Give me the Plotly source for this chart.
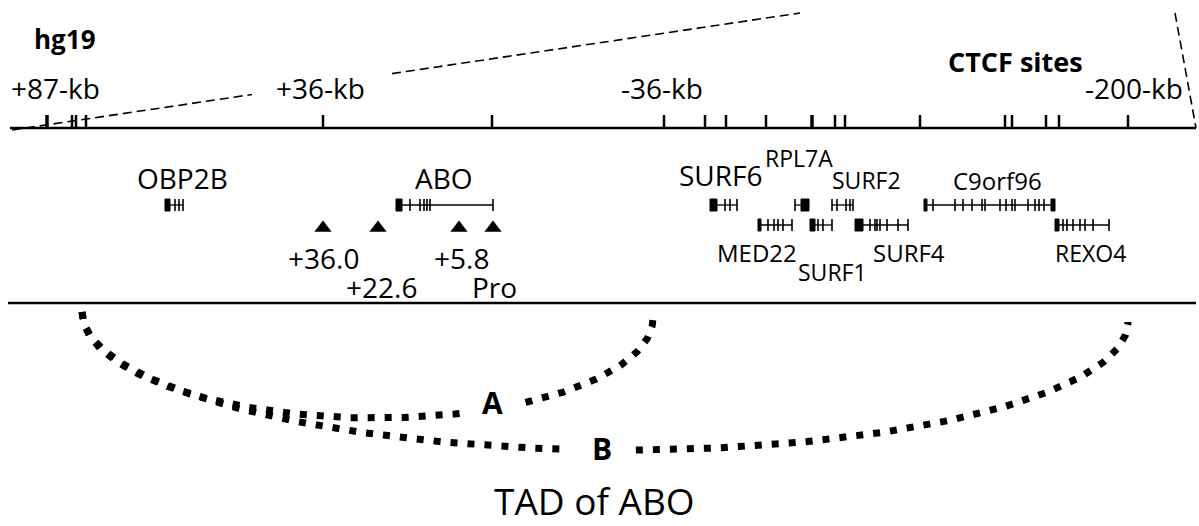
import numpy as np
import plotly.graph_objects as go

# ---------------- data ----------------
CTCF_SITES = [47, 72, 76, 86, 323, 492, 664, 705, 726, 766, 812, 835, 845, 920, 1005, 1012, 1046, 1059, 1128]
CTCF_STRONG = [47, 812]

SCALE_LABELS = ["+87-kb", "+36-kb", "-36-kb", "-200-kb"]
SCALE_POS = [55, 320, 662, 1134]

GENE_NAMES = ["OBP2B", "ABO", "SURF6", "RPL7A", "SURF2", "C9orf96", "MED22", "SURF1", "SURF4", "REXO4"]
GENE_ROW = [1, 1, 1, 1, 1, 1, 2, 2, 2, 2]
GENE_START = [165, 396, 710, 795, 832, 924, 759, 810, 855, 1055]
GENE_END = [183, 493, 737, 809, 853, 1055, 792, 832, 908, 1109]
GENE_BLOCKS = [[(165, 170)], [(396, 402)], [(710, 717)], [(801, 809)], [],
               [(924, 927), (1051, 1055)], [(758, 761)], [(810, 815)], [(855, 863)], [(1055, 1059)]]
GENE_EXONS = [[175, 179, 183], [410, 420, 424, 427, 430, 493], [725, 730, 737], [795],
              [832, 837, 846, 850, 853],
              [933, 955, 963, 972, 982, 985, 1000, 1006, 1012, 1015, 1028, 1035, 1039, 1044],
              [768, 774, 778, 783, 792], [818, 823, 832], [870, 875, 877, 880, 887, 898, 908],
              [1063, 1067, 1073, 1080, 1085, 1093, 1109]]
GENE_LABEL_X = [182, 444, 721, 799, 866, 997, 757, 832, 909, 1090]
GENE_LABEL_Y = [178, 178, 175, 158, 180, 180, 252, 272, 252, 253]
GENE_LABEL_SIZE = [28, 28, 28, 23, 23, 24, 24, 23, 24, 23]

ENH_LABELS = ["+36.0", "+22.6", "+5.8", "Pro"]
ENH_X = [323, 378, 459, 493]
ENH_LABEL_X = [323, 381, 461, 494]
ENH_LABEL_Y = [258, 287, 258, 287]

# TAD interaction arcs (half-ellipses): left end, right end, bottom depth, label gap
ARC_NAMES = ["A", "B"]
ARC_X0 = [82, 82]
ARC_X1 = [653, 1128]
ARC_Y0 = [312, 312]
ARC_Y1 = [318, 322]
ARC_BOTTOM = [418, 450]
ARC_GAP = [(462, 524), (570, 634)]
ARC_LABEL_X = [492, 602]
ARC_LABEL_Y = [402, 448]

# ---------------- layout constants ----------------
W, H = 1199, 526
AXIS_Y = 128
TICK_H = 13
MID_Y = 303
ROW_Y = {1: 205, 2: 225}
EXON_H = 6
TRI_Y = 228
FONT = "Open Sans, sans-serif"

fig = go.Figure()

# top axis line
fig.add_trace(go.Scatter(x=[10, 1196], y=[AXIS_Y, AXIS_Y], mode="lines",
                         line=dict(color="black", width=2.5), hoverinfo="skip"))
# middle separator
fig.add_trace(go.Scatter(x=[8, 1196], y=[MID_Y, MID_Y], mode="lines",
                         line=dict(color="black", width=2.5), hoverinfo="skip"))

# CTCF ticks
tx, ty, sx, sy = [], [], [], []
for s in CTCF_SITES:
    if s in CTCF_STRONG:
        sx += [s, s, None]; sy += [AXIS_Y - TICK_H, AXIS_Y, None]
    else:
        tx += [s, s, None]; ty += [AXIS_Y - TICK_H, AXIS_Y, None]
fig.add_trace(go.Scatter(x=tx, y=ty, mode="lines", line=dict(color="black", width=2.5), hoverinfo="skip"))
fig.add_trace(go.Scatter(x=sx, y=sy, mode="lines", line=dict(color="black", width=3.5), hoverinfo="skip"))

# zoom dashed lines
fig.add_trace(go.Scatter(x=[12, 252, None, 392, 800], y=[130, 94.5, None, 73.6, 13], mode="lines",
                         line=dict(color="black", width=1.6, dash="9px,5px"), hoverinfo="skip"))
fig.add_trace(go.Scatter(x=[1175, 1196], y=[13, 128], mode="lines",
                         line=dict(color="black", width=1.6, dash="9px,5px"), hoverinfo="skip"))

# genes
lx, ly, ex, ey = [], [], [], []
for i, name in enumerate(GENE_NAMES):
    y = ROW_Y[GENE_ROW[i]]
    lx += [GENE_START[i], GENE_END[i], None]; ly += [y, y, None]
    for e in GENE_EXONS[i]:
        ex += [e, e, None]; ey += [y - EXON_H, y + EXON_H, None]
    for b0, b1 in GENE_BLOCKS[i]:
        fig.add_shape(type="rect", x0=b0, x1=b1, y0=y - EXON_H, y1=y + EXON_H,
                      xref="x", yref="y", fillcolor="black", line=dict(color="black", width=1))
    fig.add_annotation(x=GENE_LABEL_X[i], y=GENE_LABEL_Y[i], text=name, showarrow=False,
                       font=dict(family=FONT, size=GENE_LABEL_SIZE[i], color="black"),
                       xanchor="center", yanchor="middle")
fig.add_trace(go.Scatter(x=lx, y=ly, mode="lines", line=dict(color="black", width=1.3), hoverinfo="skip"))
fig.add_trace(go.Scatter(x=ex, y=ey, mode="lines", line=dict(color="black", width=1.6), hoverinfo="skip"))

# enhancer triangles
fig.add_trace(go.Scatter(x=ENH_X, y=[TRI_Y] * len(ENH_X), mode="markers",
                         marker=dict(symbol="triangle-up", size=15, color="black"), hoverinfo="skip"))
for lab, x, y in zip(ENH_LABELS, ENH_LABEL_X, ENH_LABEL_Y):
    fig.add_annotation(x=x, y=y, text=lab, showarrow=False,
                       font=dict(family=FONT, size=28, color="black"), xanchor="center", yanchor="middle")

# scale labels
for lab, x in zip(SCALE_LABELS, SCALE_POS):
    fig.add_annotation(x=x, y=88, text=lab, showarrow=False,
                       font=dict(family=FONT, size=28, color="black"), xanchor="center", yanchor="middle")

fig.add_annotation(x=32, y=39, text="<b>hg19</b>", showarrow=False,
                   font=dict(family=FONT, size=26, color="black"), xanchor="left", yanchor="middle")
fig.add_annotation(x=1015, y=61, text="<b>CTCF sites</b>", showarrow=False,
                   font=dict(family=FONT, size=27, color="black"), xanchor="center", yanchor="middle")

# arcs
theta = np.linspace(0, np.pi, 400)
for i, name in enumerate(ARC_NAMES):
    cx = (ARC_X0[i] + ARC_X1[i]) / 2
    a = (ARC_X1[i] - ARC_X0[i]) / 2
    base = ARC_Y0[i] + (ARC_Y1[i] - ARC_Y0[i]) * (1 - np.cos(theta)) / 2
    depth = ARC_BOTTOM[i] - (ARC_Y0[i] + ARC_Y1[i]) / 2
    bx = cx - a * np.cos(theta)
    by = base + depth * np.sin(theta)
    g0, g1 = ARC_GAP[i]
    xs = [None if g0 < u < g1 else float(u) for u in bx]
    ys = [None if g0 < u < g1 else float(v) for u, v in zip(bx, by)]
    fig.add_trace(go.Scatter(x=xs, y=ys, mode="lines", connectgaps=False,
                             line=dict(color="black", width=7, dash="7px,10px"), hoverinfo="skip"))
    fig.add_annotation(x=ARC_LABEL_X[i], y=ARC_LABEL_Y[i], text="<b>%s</b>" % name, showarrow=False,
                       font=dict(family=FONT, size=30, color="black"), xanchor="center", yanchor="middle")

fig.add_annotation(x=594, y=500, text="TAD of ABO", showarrow=False,
                   font=dict(family=FONT, size=37, color="black"), xanchor="center", yanchor="middle")

fig.update_layout(
    width=W, height=H, margin=dict(l=0, r=0, t=0, b=0),
    paper_bgcolor="white", plot_bgcolor="white", showlegend=False,
    xaxis=dict(range=[0, W], visible=False, fixedrange=True),
    yaxis=dict(range=[H, 0], visible=False, fixedrange=True),
)

fig.write_html("out.html", config={"displayModeBar": False},
               post_script="document.body.style.margin='0';document.body.style.overflow='hidden';")
